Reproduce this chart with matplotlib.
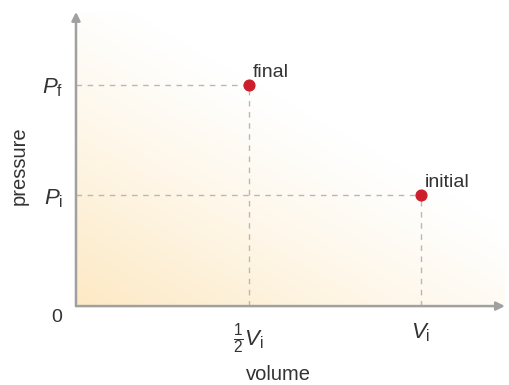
import numpy as np
import matplotlib.pyplot as plt
from matplotlib.colors import LinearSegmentedColormap

plt.rcParams['font.family'] = ['Liberation Sans', 'DejaVu Sans']
plt.rcParams['mathtext.fontset'] = 'custom'
plt.rcParams['mathtext.it'] = 'Liberation Sans:italic'
plt.rcParams['mathtext.rm'] = 'Liberation Sans'

# state points (volume in units of V_i, pressure in units of P_i)
labels = ['initial', 'final']
volume = [1.0, 0.5]
pressure = [1.0, 2.0]

x_ticks = [0.5, 1.0]
x_ticklabels = [r'$\frac{1}{2}V_\mathrm{i}$', r'$V_\mathrm{i}$']
y_ticks = [1.0, 2.0]
y_ticklabels = [r'$P_\mathrm{i}$', r'$P_\mathrm{f}$']

xmax, ymax = 1.243, 2.66

fig = plt.figure(figsize=(5.1, 3.85), dpi=100)
ax = fig.add_axes([0.149, 0.205, 0.841, 0.764])
ax.set_xlim(0, xmax)
ax.set_ylim(0, ymax)

# soft warm gradient from bottom-left corner
gx, gy = np.meshgrid(np.linspace(0, 1, 300), np.linspace(0, 1, 300))
g = np.clip(1 - (gx * 0.75 + gy * 0.9), 0, 1) ** 1.2
cmap = LinearSegmentedColormap.from_list('warm', ['#ffffff', '#fde9c4'])
ax.imshow(g, origin='lower', extent=[0, xmax, 0, ymax], cmap=cmap,
          aspect='auto', vmin=0, vmax=1, zorder=0)

# dashed guide lines
for v, p in zip(volume, pressure):
    ax.plot([0, v], [p, p], ls=(0, (4, 4)), color='#b8b8b8', lw=1, zorder=1)
    ax.plot([v, v], [0, p], ls=(0, (4, 4)), color='#b8b8b8', lw=1, zorder=1)

ax.scatter(volume, pressure, s=60, color='#cc1f2c', zorder=3)
for lab, v, p in zip(labels, volume, pressure):
    ax.annotate(lab, (v, p), xytext=(3, 6), textcoords='offset points',
                fontsize=14, color='#333333')

for side in ['top', 'right', 'left', 'bottom']:
    ax.spines[side].set_visible(False)

# axes with arrows
for tip in [(xmax, 0), (0, ymax)]:
    ax.annotate('', xy=tip, xytext=(0, 0), annotation_clip=False,
                arrowprops=dict(arrowstyle='-|>,head_length=0.5,head_width=0.25',
                                color='#a0a0a0', lw=1.8, shrinkA=0, shrinkB=0))

ax.set_xticks(x_ticks)
ax.set_xticklabels(x_ticklabels, fontsize=16, color='#333333')
ax.set_yticks(y_ticks)
ax.set_yticklabels(y_ticklabels, fontsize=16, color='#333333')
ax.tick_params(length=0, pad=11)
ax.tick_params(axis='y', pad=9)
ax.text(-0.055, -0.1, '0', fontsize=14, color='#333333', ha='center',
        va='center')

fig.text(278 / 510, 1 - 375 / 385, 'volume', fontsize=14.5, color='#333333',
         ha='center', va='center')
fig.text(19 / 510, 1 - 166 / 385, 'pressure', fontsize=14.5, color='#333333',
         ha='center', va='center', rotation=90)

fig.savefig('out.png', dpi=100)
